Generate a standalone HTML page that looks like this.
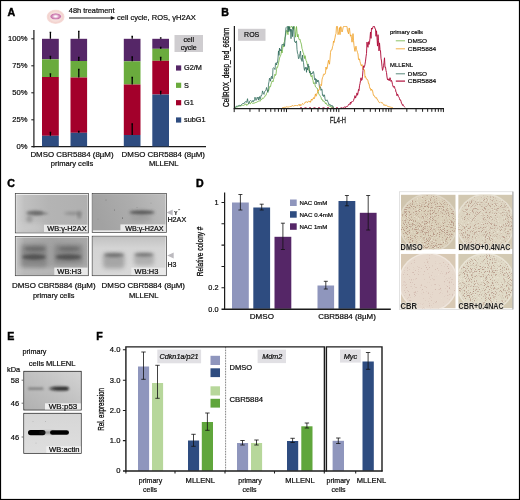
<!DOCTYPE html>
<html>
<head>
<meta charset="utf-8">
<title>Figure</title>
<style>
html,body{margin:0;padding:0;background:#fff;}
body{width:520px;height:500px;overflow:hidden;font-family:"Liberation Sans",sans-serif;}
svg{display:block;will-change:transform;}
text{font-family:"Liberation Sans",sans-serif;fill:#0a0a0a;stroke:#0a0a0a;stroke-width:0.2px;}
.t7{font-size:7.6px;}
.t6{font-size:7.0px;}
.t5{font-size:5.9px;}
.lbl{font-size:10.6px;font-weight:bold;fill:#000;stroke:#000;stroke-width:0.45px;}
.ax{stroke:#1c1c1c;stroke-width:1.05;fill:none;}
.eb{stroke:#111;stroke-width:0.8;fill:none;}
</style>
</head>
<body>
<svg width="520" height="500" viewBox="0 0 520 500">
<defs>
<filter id="b1" x="-30%" y="-100%" width="160%" height="300%"><feGaussianBlur stdDeviation="1.1"/></filter>
<filter id="b2" x="-30%" y="-100%" width="160%" height="300%"><feGaussianBlur stdDeviation="2"/></filter>
<filter id="b05" x="-30%" y="-100%" width="160%" height="300%"><feGaussianBlur stdDeviation="0.6"/></filter>
</defs>
<rect x="0" y="0" width="520" height="500" fill="#fff"/>

<!-- ================= PANEL A ================= -->
<g id="panelA">
<text class="lbl" x="7.5" y="16.3">A</text>
<!-- dish icon -->
<defs>
<radialGradient id="gDish" cx="0.5" cy="0.5" r="0.5"><stop offset="0" stop-color="#f7e3df"/><stop offset="0.62" stop-color="#f6dfdb"/><stop offset="0.8" stop-color="#f3d3cf"/><stop offset="0.93" stop-color="#f6dcd8"/><stop offset="1" stop-color="#fbeeed"/></radialGradient>
<radialGradient id="gNuc" cx="0.5" cy="0.5" r="0.5"><stop offset="0" stop-color="#ffffff"/><stop offset="0.22" stop-color="#fbeef5"/><stop offset="0.6" stop-color="#d592bd"/><stop offset="0.85" stop-color="#c873aa"/><stop offset="1" stop-color="#e3b1cf"/></radialGradient>
</defs>
<ellipse cx="55.6" cy="16.8" rx="9.1" ry="7.2" fill="url(#gDish)"/>
<ellipse cx="55.7" cy="16.4" rx="5.6" ry="3.2" fill="url(#gNuc)"/>
<text class="t7" x="68.8" y="13.4" textLength="45.7" lengthAdjust="spacingAndGlyphs">48h treatment</text>
<line x1="69" y1="18" x2="112" y2="18" stroke="#1a1a1a" stroke-width="1.05"/>
<path d="M115.3 18 L110.8 16.1 L110.8 19.9 Z" fill="#1a1a1a"/>
<text class="t7" x="117" y="20.4" textLength="78.7" lengthAdjust="spacingAndGlyphs">cell cycle, ROS, γH2AX</text>

<!-- axes -->
<line class="ax" style="stroke-width:1.2px" x1="33.9" y1="30" x2="33.9" y2="147.4"/>
<line class="ax" style="stroke-width:1.3px" x1="31.3" y1="146.7" x2="206" y2="146.7"/>
<line class="ax" x1="31.3" y1="38.8" x2="33.9" y2="38.8"/>
<line class="ax" x1="31.3" y1="65.8" x2="33.9" y2="65.8"/>
<line class="ax" x1="31.3" y1="92.8" x2="33.9" y2="92.8"/>
<line class="ax" x1="31.3" y1="119.8" x2="33.9" y2="119.8"/>
<text class="t7" x="27.5" y="41.3" text-anchor="end">100%</text>
<text class="t7" x="27.5" y="68.3" text-anchor="end">75%</text>
<text class="t7" x="27.5" y="95.3" text-anchor="end">50%</text>
<text class="t7" x="27.5" y="122.3" text-anchor="end">25%</text>
<text class="t7" x="27.5" y="149.3" text-anchor="end">0%</text>

<!-- bar 1 -->
<rect x="42" y="38.8" width="16.8" height="20.5" fill="#552667"/>
<rect x="42" y="59.3" width="16.8" height="17.7" fill="#6aab3d"/>
<rect x="42" y="77" width="16.8" height="58.8" fill="#a3002b"/>
<rect x="42" y="135.8" width="16.8" height="10.6" fill="#2e4c80"/>
<!-- bar 2 -->
<rect x="70.5" y="38.8" width="16.6" height="22.2" fill="#552667"/>
<rect x="70.5" y="61" width="16.6" height="16.5" fill="#6aab3d"/>
<rect x="70.5" y="77.5" width="16.6" height="55.3" fill="#a3002b"/>
<rect x="70.5" y="132.8" width="16.6" height="13.6" fill="#2e4c80"/>
<!-- bar 3 -->
<rect x="123.8" y="38.8" width="16.7" height="22.5" fill="#552667"/>
<rect x="123.8" y="61.3" width="16.7" height="23.2" fill="#6aab3d"/>
<rect x="123.8" y="84.5" width="16.7" height="50.5" fill="#a3002b"/>
<rect x="123.8" y="135" width="16.7" height="11.4" fill="#2e4c80"/>
<!-- bar 4 -->
<rect x="152.3" y="38.8" width="16.7" height="10" fill="#552667"/>
<rect x="152.3" y="48.8" width="16.7" height="12" fill="#6aab3d"/>
<rect x="152.3" y="60.8" width="16.7" height="33.7" fill="#a3002b"/>
<rect x="152.3" y="94.5" width="16.7" height="51.9" fill="#2e4c80"/>

<!-- error bars -->
<g class="eb" style="stroke:#000;stroke-width:1.3px">
<path d="M50.4 32.3V38.8M49.6 32.3h1.6"/>
<path d="M50.4 56.5V59.3M49.6 56.5h1.6"/>
<path d="M50.4 74V77M49.6 74h1.6"/>
<path d="M50.4 132.5V135.8M49.6 132.5h1.6"/>
<path d="M78.8 31.3V38.8M78 31.3h1.6"/>
<path d="M78.8 57.5V61M78 57.5h1.6"/>
<path d="M78.8 69.5V77.5M78 69.5h1.6"/>
<path d="M78.8 131.5V132.8M78 131.5h1.6"/>
<path d="M132.2 36.5V38.8M131.4 36.5h1.6"/>
<path d="M132.2 57V61.3M131.4 57h1.6"/>
<path d="M132.2 77.5V84.5M131.4 77.5h1.6"/>
<path d="M132.2 124V135M131.4 124h1.6"/>
<path d="M160.7 38V38.8M159.9 38h1.6"/>
<path d="M160.7 47.5V48.8M159.9 47.5h1.6"/>
<path d="M160.7 57.5V60.8M159.9 57.5h1.6"/>
<path d="M160.7 91.5V94.5M159.9 91.5h1.6"/>
</g>

<!-- legend -->
<rect x="174.5" y="35" width="28.5" height="17" fill="#cfcdd0"/>
<text class="t6" x="188.7" y="42" text-anchor="middle">cell</text>
<text class="t6" x="188.7" y="50" text-anchor="middle">cycle</text>
<rect x="176" y="65.4" width="5.2" height="5.2" fill="#552667"/>
<rect x="176" y="82.7" width="5.2" height="5.2" fill="#6aab3d"/>
<rect x="176" y="100.1" width="5.2" height="5.2" fill="#a3002b"/>
<rect x="176" y="117.4" width="5.2" height="5.2" fill="#2e4c80"/>
<text font-size="7.3" x="184" y="70.3">G2/M</text>
<text font-size="7.3" x="184" y="87.6">S</text>
<text font-size="7.3" x="184" y="105">G1</text>
<text font-size="7.3" x="184" y="122.3">subG1</text>

<!-- x labels -->
<text class="t7" x="30.4" y="157" textLength="83.2" lengthAdjust="spacingAndGlyphs">DMSO CBR5884 (8µM)</text>
<text class="t7" x="72" y="166" text-anchor="middle">primary cells</text>
<text class="t7" x="121.6" y="157" textLength="83.4" lengthAdjust="spacingAndGlyphs">DMSO CBR5884 (8µM)</text>
<text class="t7" x="163.7" y="166" text-anchor="middle">MLLENL</text>
</g>

<g id="panelB">
<text class="lbl" x="221.3" y="16.2">B</text>
<rect x="238" y="28.8" width="27.5" height="12" fill="#cfcdd0"/>
<text class="t6" x="251.7" y="37.2" text-anchor="middle">ROS</text>
<text transform="translate(228.7 107) rotate(-90)" style="stroke-width:0.28px" font-size="8.9" textLength="79.3" lengthAdjust="spacingAndGlyphs">CellROX_deep_red_665nm</text>
<line x1="300" y1="107.6" x2="346" y2="107.6" stroke="#b0103c" stroke-width="0.7" stroke-dasharray="2 2.5"/>
<path d="M234.5,107.5 L235.0,107.3 L235.5,107.2 L236.0,107.2 L236.5,106.9 L237.0,106.6 L237.5,106.8 L238.0,106.4 L238.5,106.2 L239.0,106.1 L239.5,106.1 L240.0,105.8 L240.5,106.0 L241.0,105.9 L241.5,105.8 L242.0,105.3 L242.5,105.2 L243.0,105.3 L243.5,105.4 L244.0,105.2 L244.5,104.8 L245.0,104.8 L245.5,104.0 L246.0,103.7 L246.5,105.2 L247.0,105.5 L247.5,104.4 L248.0,104.1 L248.5,103.8 L249.0,103.6 L249.5,102.6 L250.0,103.6 L250.5,103.8 L251.0,102.4 L251.5,102.5 L252.0,102.6 L252.5,103.1 L253.0,103.8 L253.5,103.1 L254.0,102.6 L254.5,103.2 L255.0,103.1 L255.5,102.5 L256.0,102.7 L256.5,102.3 L257.0,101.9 L257.5,101.7 L258.0,101.9 L258.5,101.2 L259.0,100.7 L259.5,100.8 L260.0,101.3 L260.5,100.3 L261.0,100.1 L261.5,99.1 L262.0,99.4 L262.5,98.2 L263.0,97.8 L263.5,98.4 L264.0,97.6 L264.5,96.6 L265.0,95.6 L265.5,95.8 L266.0,95.4 L266.5,93.5 L267.0,92.7 L267.5,91.5 L268.0,89.8 L268.5,90.9 L269.0,89.2 L269.5,86.6 L270.0,86.7 L270.5,86.8 L271.0,84.2 L271.5,82.8 L272.0,81.1 L272.5,81.0 L273.0,81.8 L273.5,79.5 L274.0,78.0 L274.5,75.4 L275.0,74.2 L275.5,75.5 L276.0,74.4 L276.5,69.6 L277.0,66.9 L277.5,67.4 L278.0,65.7 L278.5,62.9 L279.0,60.8 L279.5,58.1 L280.0,56.8 L280.5,55.8 L281.0,54.3 L281.5,49.9 L282.0,53.0 L282.5,49.8 L283.0,45.8 L283.5,46.8 L284.0,42.7 L284.5,41.4 L285.0,37.3 L285.5,36.2 L286.0,33.8 L286.5,30.4 L287.0,30.6 L287.5,33.1 L288.0,34.7 L288.5,26.6 L289.0,26.7 L289.5,29.4 L290.0,27.6 L290.5,27.2 L291.0,26.5 L291.5,26.5 L292.0,26.8 L292.5,28.7 L293.0,26.8 L293.5,29.3 L294.0,27.2 L294.5,26.5 L295.0,31.1 L295.5,37.2 L296.0,31.7 L296.5,26.5 L297.0,32.0 L297.5,37.0 L298.0,34.3 L298.5,37.2 L299.0,39.2 L299.5,39.9 L300.0,39.3 L300.5,41.9 L301.0,42.9 L301.5,44.9 L302.0,48.5 L302.5,49.8 L303.0,52.3 L303.5,52.8 L304.0,55.9 L304.5,58.5 L305.0,55.6 L305.5,58.0 L306.0,60.5 L306.5,61.0 L307.0,63.6 L307.5,65.4 L308.0,65.7 L308.5,66.9 L309.0,70.6 L309.5,70.1 L310.0,72.3 L310.5,75.1 L311.0,76.4 L311.5,76.9 L312.0,75.3 L312.5,79.1 L313.0,80.2 L313.5,83.5 L314.0,83.4 L314.5,82.7 L315.0,84.8 L315.5,86.9 L316.0,87.3 L316.5,87.6 L317.0,88.6 L317.5,88.6 L318.0,90.8 L318.5,93.3 L319.0,94.2 L319.5,95.0 L320.0,95.7 L320.5,96.6 L321.0,97.3 L321.5,99.3 L322.0,99.1 L322.5,100.0 L323.0,101.4 L323.5,101.1 L324.0,100.9 L324.5,101.7 L325.0,102.7 L325.5,103.8 L326.0,102.8 L326.5,103.4 L327.0,104.9 L327.5,105.4 L328.0,105.2 L328.5,106.0 L329.0,105.9 L329.5,106.1 L330.0,105.9 L330.5,106.0 L331.0,107.3 L331.5,107.1 L332.0,107.0 L332.5,107.0 L333.0,107.2 L333.5,107.3 L334.0,107.5" fill="none" stroke="#6db33f" stroke-width="0.8" stroke-linejoin="round"/>
<path d="M234.5,107.5 L235.0,107.4 L235.5,107.2 L236.0,107.4 L236.5,106.5 L237.0,105.8 L237.5,106.3 L238.0,105.9 L238.5,105.7 L239.0,106.1 L239.5,105.3 L240.0,105.4 L240.5,105.5 L241.0,105.5 L241.5,104.5 L242.0,104.2 L242.5,103.6 L243.0,104.0 L243.5,103.5 L244.0,103.8 L244.5,102.4 L245.0,102.0 L245.5,101.8 L246.0,101.4 L246.5,102.4 L247.0,101.0 L247.5,98.7 L248.0,101.9 L248.5,103.6 L249.0,103.5 L249.5,101.3 L250.0,101.1 L250.5,100.6 L251.0,100.7 L251.5,101.4 L252.0,101.5 L252.5,101.6 L253.0,100.3 L253.5,101.5 L254.0,101.2 L254.5,99.7 L255.0,97.2 L255.5,98.9 L256.0,100.4 L256.5,99.8 L257.0,97.6 L257.5,98.3 L258.0,97.0 L258.5,100.1 L259.0,98.1 L259.5,96.6 L260.0,99.5 L260.5,98.4 L261.0,95.4 L261.5,95.6 L262.0,94.3 L262.5,90.9 L263.0,92.4 L263.5,93.9 L264.0,94.4 L264.5,91.6 L265.0,91.1 L265.5,90.9 L266.0,89.9 L266.5,87.5 L267.0,89.4 L267.5,91.0 L268.0,92.3 L268.5,84.1 L269.0,81.8 L269.5,78.2 L270.0,79.0 L270.5,81.2 L271.0,77.5 L271.5,76.3 L272.0,78.9 L272.5,78.0 L273.0,68.4 L273.5,67.7 L274.0,68.0 L274.5,68.7 L275.0,69.6 L275.5,63.4 L276.0,62.8 L276.5,65.0 L277.0,62.2 L277.5,62.5 L278.0,58.0 L278.5,50.9 L279.0,55.4 L279.5,48.0 L280.0,50.9 L280.5,49.6 L281.0,50.8 L281.5,48.3 L282.0,44.4 L282.5,44.5 L283.0,45.3 L283.5,44.4 L284.0,43.7 L284.5,46.4 L285.0,40.3 L285.5,32.9 L286.0,27.8 L286.5,27.1 L287.0,26.5 L287.5,26.5 L288.0,32.0 L288.5,26.5 L289.0,30.4 L289.5,26.5 L290.0,31.5 L290.5,29.1 L291.0,38.7 L291.5,29.6 L292.0,29.4 L292.5,36.6 L293.0,26.5 L293.5,26.6 L294.0,34.2 L294.5,41.5 L295.0,41.7 L295.5,42.8 L296.0,41.1 L296.5,41.1 L297.0,49.4 L297.5,53.2 L298.0,54.4 L298.5,58.8 L299.0,58.3 L299.5,56.2 L300.0,53.5 L300.5,51.0 L301.0,59.2 L301.5,58.7 L302.0,61.4 L302.5,55.1 L303.0,60.0 L303.5,62.5 L304.0,67.7 L304.5,70.4 L305.0,67.6 L305.5,68.5 L306.0,67.1 L306.5,72.3 L307.0,67.9 L307.5,69.9 L308.0,63.9 L308.5,67.2 L309.0,66.3 L309.5,72.9 L310.0,71.2 L310.5,73.5 L311.0,74.5 L311.5,73.0 L312.0,73.9 L312.5,73.1 L313.0,71.5 L313.5,71.7 L314.0,74.5 L314.5,79.4 L315.0,80.0 L315.5,78.5 L316.0,83.8 L316.5,79.4 L317.0,79.8 L317.5,81.9 L318.0,80.1 L318.5,80.7 L319.0,83.2 L319.5,87.5 L320.0,86.9 L320.5,86.9 L321.0,90.4 L321.5,88.9 L322.0,89.6 L322.5,95.4 L323.0,94.7 L323.5,96.5 L324.0,94.9 L324.5,95.0 L325.0,98.8 L325.5,100.5 L326.0,100.2 L326.5,100.8 L327.0,99.8 L327.5,100.6 L328.0,102.5 L328.5,102.8 L329.0,105.1 L329.5,104.8 L330.0,104.3 L330.5,105.2 L331.0,106.1 L331.5,105.8 L332.0,105.2 L332.5,106.1 L333.0,107.3 L333.5,107.1 L334.0,107.5" fill="none" stroke="#2f6b5a" stroke-width="0.8" stroke-linejoin="round"/>
<path d="M282.0,107.7 L282.5,107.7 L283.0,107.6 L283.5,107.5 L284.0,107.4 L284.5,107.3 L285.0,107.4 L285.5,107.3 L286.0,107.2 L286.5,106.8 L287.0,106.8 L287.5,107.0 L288.0,106.9 L288.5,107.0 L289.0,107.1 L289.5,106.9 L290.0,106.4 L290.5,106.5 L291.0,106.1 L291.5,106.2 L292.0,106.3 L292.5,105.6 L293.0,105.6 L293.5,106.2 L294.0,106.1 L294.5,105.7 L295.0,105.0 L295.5,105.5 L296.0,105.9 L296.5,105.3 L297.0,105.8 L297.5,105.8 L298.0,105.0 L298.5,104.8 L299.0,104.9 L299.5,104.5 L300.0,106.0 L300.5,104.7 L301.0,104.7 L301.5,105.3 L302.0,104.3 L302.5,103.5 L303.0,103.9 L303.5,104.4 L304.0,103.7 L304.5,103.3 L305.0,102.3 L305.5,102.1 L306.0,102.4 L306.5,101.7 L307.0,102.1 L307.5,102.7 L308.0,101.7 L308.5,101.1 L309.0,101.4 L309.5,101.8 L310.0,101.0 L310.5,102.3 L311.0,100.4 L311.5,99.1 L312.0,100.4 L312.5,99.3 L313.0,99.2 L313.5,97.6 L314.0,98.9 L314.5,98.4 L315.0,95.8 L315.5,93.9 L316.0,96.3 L316.5,95.4 L317.0,93.1 L317.5,92.9 L318.0,89.9 L318.5,90.9 L319.0,89.4 L319.5,89.3 L320.0,85.6 L320.5,84.8 L321.0,84.7 L321.5,85.6 L322.0,79.9 L322.5,77.6 L323.0,76.6 L323.5,74.4 L324.0,73.8 L324.5,74.6 L325.0,74.2 L325.5,72.8 L326.0,67.0 L326.5,69.3 L327.0,68.7 L327.5,65.9 L328.0,63.1 L328.5,60.3 L329.0,62.7 L329.5,64.2 L330.0,59.1 L330.5,52.5 L331.0,50.1 L331.5,49.9 L332.0,49.8 L332.5,46.7 L333.0,45.4 L333.5,41.1 L334.0,42.5 L334.5,40.0 L335.0,37.9 L335.5,34.8 L336.0,33.6 L336.5,26.5 L337.0,26.5 L337.5,26.5 L338.0,34.7 L338.5,33.4 L339.0,31.4 L339.5,27.6 L340.0,34.7 L340.5,26.9 L341.0,26.5 L341.5,29.7 L342.0,32.0 L342.5,30.9 L343.0,27.9 L343.5,26.5 L344.0,26.5 L344.5,26.5 L345.0,26.5 L345.5,26.5 L346.0,26.5 L346.5,26.5 L347.0,26.5 L347.5,31.2 L348.0,32.4 L348.5,33.8 L349.0,28.0 L349.5,28.3 L350.0,33.3 L350.5,36.2 L351.0,34.9 L351.5,38.7 L352.0,42.2 L352.5,39.7 L353.0,33.6 L353.5,40.3 L354.0,45.7 L354.5,49.0 L355.0,51.4 L355.5,47.8 L356.0,46.2 L356.5,49.4 L357.0,50.9 L357.5,52.5 L358.0,54.0 L358.5,59.4 L359.0,59.9 L359.5,58.8 L360.0,61.7 L360.5,63.3 L361.0,65.2 L361.5,66.0 L362.0,64.5 L362.5,67.6 L363.0,69.7 L363.5,69.1 L364.0,70.1 L364.5,69.9 L365.0,77.4 L365.5,76.4 L366.0,77.9 L366.5,79.2 L367.0,79.0 L367.5,79.5 L368.0,80.9 L368.5,83.6 L369.0,83.5 L369.5,86.6 L370.0,88.7 L370.5,88.5 L371.0,90.6 L371.5,89.1 L372.0,90.1 L372.5,90.4 L373.0,93.2 L373.5,95.5 L374.0,95.9 L374.5,95.8 L375.0,97.4 L375.5,97.6 L376.0,98.2 L376.5,97.6 L377.0,99.4 L377.5,99.4 L378.0,100.6 L378.5,101.7 L379.0,102.1 L379.5,102.7 L380.0,102.4 L380.5,101.9 L381.0,102.6 L381.5,102.9 L382.0,102.4 L382.5,103.2 L383.0,103.8 L383.5,104.3 L384.0,105.4 L384.5,104.7 L385.0,105.7 L385.5,105.3 L386.0,105.3 L386.5,105.2 L387.0,105.7 L387.5,106.4 L388.0,106.3 L388.5,106.6 L389.0,106.8 L389.5,106.8 L390.0,107.0 L390.5,107.1 L391.0,107.3 L391.5,107.4 L392.0,107.5 L392.5,107.6 L393.0,107.7" fill="none" stroke="#ef9d1e" stroke-width="0.8" stroke-linejoin="round"/>
<path d="M343.0,107.6 L343.5,107.6 L344.0,107.2 L344.5,107.0 L345.0,107.2 L345.5,107.1 L346.0,106.9 L346.5,106.6 L347.0,107.0 L347.5,106.4 L348.0,105.7 L348.5,104.5 L349.0,104.3 L349.5,103.9 L350.0,104.7 L350.5,102.0 L351.0,103.4 L351.5,101.9 L352.0,101.4 L352.5,101.9 L353.0,101.4 L353.5,100.6 L354.0,98.8 L354.5,98.1 L355.0,95.6 L355.5,98.1 L356.0,96.6 L356.5,95.8 L357.0,92.9 L357.5,95.2 L358.0,93.1 L358.5,89.4 L359.0,90.6 L359.5,85.8 L360.0,83.6 L360.5,80.6 L361.0,77.8 L361.5,80.4 L362.0,80.1 L362.5,76.2 L363.0,70.3 L363.5,65.8 L364.0,67.5 L364.5,66.5 L365.0,64.3 L365.5,61.1 L366.0,56.9 L366.5,53.4 L367.0,42.1 L367.5,46.0 L368.0,47.3 L368.5,41.7 L369.0,44.5 L369.5,42.8 L370.0,38.2 L370.5,32.0 L371.0,38.4 L371.5,28.0 L372.0,29.1 L372.5,28.9 L373.0,26.5 L373.5,26.5 L374.0,26.5 L374.5,26.5 L375.0,28.8 L375.5,28.9 L376.0,36.3 L376.5,30.8 L377.0,37.9 L377.5,46.1 L378.0,34.7 L378.5,40.3 L379.0,50.9 L379.5,42.9 L380.0,49.4 L380.5,50.9 L381.0,58.2 L381.5,61.0 L382.0,66.4 L382.5,70.4 L383.0,68.8 L383.5,65.7 L384.0,62.8 L384.5,57.8 L385.0,67.5 L385.5,67.1 L386.0,70.6 L386.5,72.6 L387.0,77.0 L387.5,79.7 L388.0,78.9 L388.5,80.3 L389.0,78.9 L389.5,80.5 L390.0,77.7 L390.5,79.4 L391.0,81.5 L391.5,80.4 L392.0,81.9 L392.5,84.6 L393.0,86.2 L393.5,87.3 L394.0,86.1 L394.5,86.7 L395.0,88.8 L395.5,89.4 L396.0,92.3 L396.5,92.6 L397.0,95.8 L397.5,94.0 L398.0,95.1 L398.5,96.7 L399.0,97.2 L399.5,98.7 L400.0,100.2 L400.5,99.9 L401.0,101.2 L401.5,103.4 L402.0,103.6 L402.5,105.4 L403.0,104.6 L403.5,105.5 L404.0,106.4 L404.5,106.8 L405.0,107.3" fill="none" stroke="#b0103c" stroke-width="0.95" stroke-linejoin="round"/>
<line class="ax" style="stroke-width:1.25px" x1="234.4" y1="26" x2="234.4" y2="109"/>
<line class="ax" style="stroke-width:1.25px" x1="233.7" y1="108.5" x2="444" y2="108.5"/>
<path d="M234.20 108.5v3.6 M249.94 108.5v3.3 M259.15 108.5v3.3 M265.69 108.5v3.3 M270.76 108.5v3.3 M274.90 108.5v3.3 M278.40 108.5v3.3 M281.43 108.5v3.3 M284.11 108.5v3.3 M286.50 108.5v3.6 M302.24 108.5v3.3 M311.45 108.5v3.3 M317.99 108.5v3.3 M323.06 108.5v3.3 M327.20 108.5v3.3 M330.70 108.5v3.3 M333.73 108.5v3.3 M336.41 108.5v3.3 M338.80 108.5v3.6 M354.54 108.5v3.3 M363.75 108.5v3.3 M370.29 108.5v3.3 M375.36 108.5v3.3 M379.50 108.5v3.3 M383.00 108.5v3.3 M386.03 108.5v3.3 M388.71 108.5v3.3 M391.10 108.5v3.6 M406.84 108.5v3.3 M416.05 108.5v3.3 M422.59 108.5v3.3 M427.66 108.5v3.3 M431.80 108.5v3.3 M435.30 108.5v3.3 M438.33 108.5v3.3 M441.01 108.5v3.3 M443.40 108.5v3.6" stroke="#1a1a1a" stroke-width="1" fill="none"/>
<text x="330" y="122.6" font-size="9" style="stroke-width:0.28px" textLength="16" lengthAdjust="spacingAndGlyphs">FL4-H</text>
<text class="t5" x="390" y="34">primary cells</text>
<line x1="395.8" y1="40.8" x2="405" y2="40.8" stroke="#6db33f" stroke-width="0.8"/>
<text font-size="6.1" x="407.8" y="42.8" textLength="19.2" lengthAdjust="spacingAndGlyphs">DMSO</text>
<line x1="395.8" y1="48.8" x2="405" y2="48.8" stroke="#ef9d1e" stroke-width="0.8"/>
<text font-size="6.1" x="407.8" y="50.8" textLength="28.4" lengthAdjust="spacingAndGlyphs">CBR5884</text>
<text class="t5" x="390" y="66.6">MLLENL</text>
<line x1="395.8" y1="73.8" x2="405" y2="73.8" stroke="#2f6b5a" stroke-width="0.8"/>
<text font-size="6.1" x="407.8" y="75.8" textLength="19.2" lengthAdjust="spacingAndGlyphs">DMSO</text>
<line x1="395.8" y1="81.1" x2="405" y2="81.1" stroke="#b0103c" stroke-width="1.2"/>
<text font-size="6.1" x="407.8" y="83.3" textLength="28.4" lengthAdjust="spacingAndGlyphs">CBR5884</text>
</g>
<g id="panelC">
<defs>
<linearGradient id="gC1" x1="0" y1="0" x2="1" y2="0"><stop offset="0" stop-color="#d2d2d2"/><stop offset="0.12" stop-color="#c0c0c0"/><stop offset="0.45" stop-color="#b4b4b4"/><stop offset="1" stop-color="#b0b0b0"/></linearGradient>
<linearGradient id="gC2" x1="0" y1="0.2" x2="1" y2="0"><stop offset="0" stop-color="#a2a2a2"/><stop offset="0.5" stop-color="#adadad"/><stop offset="1" stop-color="#bdbdbd"/></linearGradient>
<linearGradient id="gC3" x1="0" y1="0" x2="1" y2="0"><stop offset="0" stop-color="#c4c4c4"/><stop offset="0.12" stop-color="#acacac"/><stop offset="0.5" stop-color="#a2a2a2"/><stop offset="1" stop-color="#a8a8a8"/></linearGradient>
<linearGradient id="gC4" x1="0" y1="0" x2="0" y2="1"><stop offset="0" stop-color="#c2c2c2"/><stop offset="0.3" stop-color="#d4d4d4"/><stop offset="1" stop-color="#d8d8d8"/></linearGradient>
<clipPath id="cC1"><rect x="16.2" y="194.4" width="71.5" height="37.6"/></clipPath>
<clipPath id="cC2"><rect x="92.9" y="194.1" width="72.9" height="37.6"/></clipPath>
<clipPath id="cC3"><rect x="16.2" y="237.2" width="71.5" height="37.7"/></clipPath>
<clipPath id="cC4"><rect x="92.9" y="236.8" width="72.9" height="38.2"/></clipPath>
<filter id="b15" x="-30%" y="-100%" width="160%" height="300%"><feGaussianBlur stdDeviation="1.5"/></filter>
<filter id="b3" x="-50%" y="-100%" width="200%" height="300%"><feGaussianBlur stdDeviation="3"/></filter>
</defs>
<text class="lbl" x="7.3" y="186.9">C</text>
<!-- blot 1 -->
<rect x="15.3" y="193.5" width="73.3" height="39.4" fill="#fff" stroke="#3a3a3a" stroke-width="0.7"/>
<g clip-path="url(#cC1)">
<rect x="15.8" y="194.4" width="72.2" height="37.6" fill="url(#gC1)"/>
<ellipse cx="30" cy="228" rx="16" ry="5" fill="#d0d0d0" opacity="0.6" filter="url(#b3)"/>
<ellipse cx="35" cy="213" rx="9" ry="2.2" fill="#505050" opacity="0.75" filter="url(#b15)"/>
<ellipse cx="41" cy="213.4" rx="7.5" ry="1.4" fill="#666" opacity="0.5" filter="url(#b1)"/>
<ellipse cx="29.5" cy="219" rx="3.2" ry="3.5" fill="#777" opacity="0.45" filter="url(#b15)"/>
<ellipse cx="73" cy="213.3" rx="9" ry="1.6" fill="#6c6c6c" opacity="0.5" filter="url(#b15)"/>
<ellipse cx="79.3" cy="215" rx="2" ry="4" fill="#666" opacity="0.5" filter="url(#b15)"/>
<rect x="44" y="224.7" width="45" height="8" fill="#e9e9e9"/>
</g>
<text class="t6" x="47.2" y="231.2" textLength="39.4" lengthAdjust="spacingAndGlyphs">WB:γ-H2AX</text>
<!-- blot 2 -->
<rect x="92.2" y="193.5" width="74.2" height="38.9" fill="#fff" stroke="#3a3a3a" stroke-width="0.7"/>
<g clip-path="url(#cC2)">
<rect x="92.9" y="194.1" width="72.9" height="37.6" fill="url(#gC2)"/>
<ellipse cx="142" cy="212.4" rx="12.5" ry="2" fill="#3c3c3c" opacity="0.85" filter="url(#b15)"/>
<ellipse cx="141" cy="218" rx="11" ry="3.5" fill="#8a8a8a" opacity="0.4" filter="url(#b2)"/>
<rect x="92.9" y="230.4" width="28" height="2" fill="#f4f4f4"/>
<rect x="120.4" y="224.4" width="46" height="8" fill="#e9e9e9"/>
<circle cx="106" cy="200" r="0.4" fill="#555"/><circle cx="114.5" cy="210" r="0.45" fill="#444"/><circle cx="122.5" cy="218" r="0.5" fill="#444"/><circle cx="98" cy="219" r="0.35" fill="#666"/><circle cx="151" cy="203" r="0.35" fill="#666"/><circle cx="137" cy="207.5" r="0.35" fill="#555"/>
</g>
<text class="t6" x="125.2" y="231.2" textLength="38.3" lengthAdjust="spacingAndGlyphs">WB:γ-H2AX</text>
<!-- blot 3 -->
<rect x="15.3" y="236.4" width="73.3" height="39.3" fill="#fff" stroke="#3a3a3a" stroke-width="0.7"/>
<g clip-path="url(#cC3)">
<rect x="15.8" y="237.2" width="72.2" height="37.7" fill="url(#gC3)"/>
<rect x="15.8" y="268" width="72.2" height="7" fill="#c4c4c4" opacity="0.7" filter="url(#b2)"/>
<rect x="21" y="244" width="26" height="23" rx="4" fill="#7a7a7a" opacity="0.7" filter="url(#b2)"/>
<rect x="54" y="244" width="29" height="20" rx="4" fill="#7a7a7a" opacity="0.65" filter="url(#b2)"/>
<ellipse cx="34" cy="257" rx="12" ry="2.8" fill="#444" opacity="0.8" filter="url(#b15)"/>
<ellipse cx="68.5" cy="257" rx="13" ry="2.8" fill="#444" opacity="0.8" filter="url(#b15)"/>
<ellipse cx="35" cy="248.8" rx="10.5" ry="2.4" fill="#5a5a5a" opacity="0.6" filter="url(#b15)"/>
<ellipse cx="69" cy="248.8" rx="10.5" ry="2.4" fill="#5a5a5a" opacity="0.55" filter="url(#b15)"/>
<rect x="54.3" y="267.6" width="34" height="8" fill="#e9e9e9"/>
</g>
<text class="t6" x="57.2" y="274.3" textLength="24.2" lengthAdjust="spacingAndGlyphs">WB:H3</text>
<!-- blot 4 -->
<rect x="92.2" y="236.2" width="74.2" height="39.5" fill="#fff" stroke="#3a3a3a" stroke-width="0.7"/>
<g clip-path="url(#cC4)">
<rect x="92.9" y="236.8" width="72.9" height="38.2" fill="url(#gC4)"/>
<rect x="103" y="253" width="21.5" height="15.5" rx="4" fill="#868686" opacity="0.6" filter="url(#b2)"/>
<rect x="134" y="253" width="20" height="12.5" rx="4" fill="#909090" opacity="0.55" filter="url(#b2)"/>
<ellipse cx="114" cy="255" rx="10" ry="1.8" fill="#505050" opacity="0.7" filter="url(#b15)"/>
<ellipse cx="144" cy="254.8" rx="9.5" ry="1.7" fill="#505050" opacity="0.65" filter="url(#b15)"/>
<rect x="131.3" y="267.6" width="35" height="8" fill="#e9e9e9"/>
</g>
<text class="t6" x="134.6" y="274.3" textLength="23.7" lengthAdjust="spacingAndGlyphs">WB:H3</text>
<!-- arrows / labels -->
<path d="M166.6 212.5 L172.7 209.5 L172.7 215.5 Z" fill="#bcbabf"/>
<text x="174.3" y="214" font-size="7" font-family="Liberation Serif" style="font-family:'Liberation Serif',serif">γ</text>
<path d="M178.2 209.6h1.9" stroke="#111" stroke-width="0.6"/>
<text class="t6" x="167.4" y="222.1" textLength="18.8" lengthAdjust="spacingAndGlyphs">H2AX</text>
<path d="M167.2 255.5 L173.7 252.4 L173.7 258.6 Z" fill="#bcbabf"/>
<text class="t6" x="167.4" y="266.6">H3</text>
<text class="t7" x="12" y="288" textLength="83.6" lengthAdjust="spacingAndGlyphs">DMSO CBR5884 (8µM)</text>
<text class="t7" x="53.7" y="298" text-anchor="middle" textLength="41.4" lengthAdjust="spacingAndGlyphs">primary cells</text>
<text class="t7" x="101.6" y="288" textLength="83.4" lengthAdjust="spacingAndGlyphs">DMSO CBR5884 (8µM)</text>
<text class="t7" x="143.7" y="298" text-anchor="middle" textLength="29.4" lengthAdjust="spacingAndGlyphs">MLLENL</text>
</g>
<g id="panelD">
<text class="lbl" x="196" y="186.9">D</text>
<text transform="translate(202.5 276.2) rotate(-90)" style="stroke-width:0.28px" font-size="8.6" textLength="49.7" lengthAdjust="spacingAndGlyphs">Relative colony #</text>
<!-- bars -->
<rect x="232" y="202.5" width="16.8" height="106.3" fill="#8f96bd"/>
<rect x="253.3" y="207.5" width="16.8" height="101.3" fill="#2e4c80"/>
<rect x="274.5" y="236.8" width="16.8" height="72" fill="#552667"/>
<rect x="317.5" y="285.5" width="16.6" height="23.3" fill="#8f96bd"/>
<rect x="338.5" y="201" width="16.8" height="107.8" fill="#2e4c80"/>
<rect x="359.8" y="212.8" width="16.8" height="96" fill="#552667"/>
<g class="eb">
<path d="M240.4 194.5V210M238.4 194.5h4M238.4 210h4"/>
<path d="M261.7 204.2V210M259.7 204.2h4M259.7 210h4"/>
<path d="M282.9 223.2V249.5M280.9 223.2h4M280.9 249.5h4"/>
<path d="M325.8 281.3V289M323.8 281.3h4M323.8 289h4"/>
<path d="M346.9 195.5V205.8M344.9 195.5h4M344.9 205.8h4"/>
<path d="M368.2 195.5V230M366.2 195.5h4M366.2 230h4"/>
</g>
<!-- axes -->
<line class="ax" style="stroke-width:1.25px" x1="224.6" y1="192.5" x2="224.6" y2="310"/>
<line class="ax" style="stroke-width:1.4px" x1="221.5" y1="309.3" x2="390.8" y2="309.3"/>
<path class="ax" d="M221.5 202.5h3.1M221.5 223.8h3.1M221.5 245.1h3.1M221.5 266.4h3.1M221.5 287.7h3.1"/>
<text font-size="7.3" x="218.5" y="205" text-anchor="end">1</text>
<text font-size="7.3" x="218.5" y="290.2" text-anchor="end">0.2</text>
<text font-size="7.3" x="218.5" y="311.5" text-anchor="end">0.0</text>
<text font-size="7.5" x="261.9" y="318.8" text-anchor="middle" textLength="24.2" lengthAdjust="spacingAndGlyphs">DMSO</text>
<text font-size="7.5" x="347.1" y="318.8" text-anchor="middle" textLength="57.6" lengthAdjust="spacingAndGlyphs">CBR5884 (8µM)</text>
<!-- legend -->
<rect x="290" y="199.5" width="6.7" height="6.5" fill="#8f96bd"/>
<rect x="290" y="211.2" width="6.7" height="6.5" fill="#2e4c80"/>
<rect x="290" y="223.3" width="6.7" height="6.5" fill="#552667"/>
<text class="t5" x="299.4" y="204.9" textLength="28" lengthAdjust="spacingAndGlyphs">NAC 0mM</text>
<text class="t5" x="299.4" y="216.6" textLength="33.6" lengthAdjust="spacingAndGlyphs">NAC 0.4mM</text>
<text class="t5" x="299.4" y="228.7" textLength="28" lengthAdjust="spacingAndGlyphs">NAC 1mM</text>
<!-- photos -->
<rect x="399.3" y="191.8" width="113.7" height="117.6" fill="#fff" stroke="#cfcfcf" stroke-width="0.6"/>
<clipPath id="cD1"><rect x="401" y="194.6" width="54.7" height="54.6"/></clipPath>
<clipPath id="cDc1"><circle cx="428.35" cy="223.20000000000002" r="28.15"/></clipPath>
<filter id="fD1" x="0" y="0" width="1" height="1" color-interpolation-filters="sRGB"><feTurbulence type="fractalNoise" baseFrequency="1.05" numOctaves="2" seed="11" result="n"/><feColorMatrix in="n" type="matrix" values="0 0 0 0 0.55  0 0 0 0 0.34  0 0 0 0 0.29  6.0 0 0 0 -3.28"/><feGaussianBlur stdDeviation="0.3"/></filter>
<filter id="fL1" x="0" y="0" width="1" height="1" color-interpolation-filters="sRGB"><feTurbulence type="fractalNoise" baseFrequency="0.7" numOctaves="2" seed="51" result="n"/><feColorMatrix in="n" type="matrix" values="0 0 0 0 0.95  0 0 0 0 0.93  0 0 0 0 0.88  0 6.0 0 0 -3.6"/></filter>
<g clip-path="url(#cD1)">
<rect x="401" y="194.6" width="54.7" height="54.6" fill="#cfc4ad"/>
<circle cx="428.35" cy="223.20000000000002" r="29.75" fill="#e0d8c8"/>
<circle cx="428.35" cy="223.20000000000002" r="28.35" fill="#dad0ba"/>
<g clip-path="url(#cDc1)"><rect x="401" y="194.6" width="54.7" height="54.6" fill="#fff" filter="url(#fL1)" opacity="0.55"/><rect x="401" y="194.6" width="54.7" height="54.6" fill="#fff" filter="url(#fD1)" opacity="0.45"/><g opacity="0.55"><g fill="#8a5a50"><circle cx="420.6" cy="217.4" r="0.21"/><circle cx="437.7" cy="227.6" r="0.23"/><circle cx="410.5" cy="242.4" r="0.31"/><circle cx="442.6" cy="239.9" r="0.37"/><circle cx="437.3" cy="203.0" r="0.32"/><circle cx="403.2" cy="214.4" r="0.31"/><circle cx="429.8" cy="239.1" r="0.38"/><circle cx="403.8" cy="228.4" r="0.26"/><circle cx="421.3" cy="226.5" r="0.23"/><circle cx="446.4" cy="210.4" r="0.25"/><circle cx="425.6" cy="227.2" r="0.30"/><circle cx="414.7" cy="244.9" r="0.20"/><circle cx="417.9" cy="225.9" r="0.35"/><circle cx="406.1" cy="209.5" r="0.27"/><circle cx="435.4" cy="236.6" r="0.21"/><circle cx="445.6" cy="240.9" r="0.36"/><circle cx="418.6" cy="216.3" r="0.40"/><circle cx="430.0" cy="227.3" r="0.22"/><circle cx="427.8" cy="219.6" r="0.31"/><circle cx="418.4" cy="246.0" r="0.26"/><circle cx="414.0" cy="245.6" r="0.30"/><circle cx="443.0" cy="227.0" r="0.21"/><circle cx="438.0" cy="209.0" r="0.36"/><circle cx="421.3" cy="204.6" r="0.37"/><circle cx="410.1" cy="204.7" r="0.23"/><circle cx="442.5" cy="212.2" r="0.37"/><circle cx="431.0" cy="227.5" r="0.42"/><circle cx="422.0" cy="231.2" r="0.21"/><circle cx="441.9" cy="244.4" r="0.31"/><circle cx="429.2" cy="230.7" r="0.21"/><circle cx="422.4" cy="216.3" r="0.27"/><circle cx="443.1" cy="239.0" r="0.27"/><circle cx="441.0" cy="234.5" r="0.22"/><circle cx="445.2" cy="212.1" r="0.35"/><circle cx="425.5" cy="216.8" r="0.23"/><circle cx="423.3" cy="197.8" r="0.38"/><circle cx="434.2" cy="200.4" r="0.25"/><circle cx="418.3" cy="223.3" r="0.26"/><circle cx="429.7" cy="244.1" r="0.34"/><circle cx="424.3" cy="238.8" r="0.38"/><circle cx="420.3" cy="207.8" r="0.31"/><circle cx="439.6" cy="231.0" r="0.27"/><circle cx="435.2" cy="201.9" r="0.37"/><circle cx="429.1" cy="201.7" r="0.27"/><circle cx="428.3" cy="201.6" r="0.28"/><circle cx="424.5" cy="213.4" r="0.36"/><circle cx="409.3" cy="229.7" r="0.32"/><circle cx="431.0" cy="217.0" r="0.36"/><circle cx="446.1" cy="206.8" r="0.22"/><circle cx="449.6" cy="236.8" r="0.34"/><circle cx="439.2" cy="208.6" r="0.23"/><circle cx="407.5" cy="219.5" r="0.31"/><circle cx="434.7" cy="215.7" r="0.24"/><circle cx="425.6" cy="223.9" r="0.41"/><circle cx="422.8" cy="221.9" r="0.23"/><circle cx="424.5" cy="206.2" r="0.32"/><circle cx="438.0" cy="212.5" r="0.37"/><circle cx="427.0" cy="205.5" r="0.41"/><circle cx="423.4" cy="229.0" r="0.31"/><circle cx="429.7" cy="230.3" r="0.28"/><circle cx="451.1" cy="227.4" r="0.21"/><circle cx="443.9" cy="214.0" r="0.28"/><circle cx="407.2" cy="237.3" r="0.36"/><circle cx="413.8" cy="215.8" r="0.22"/><circle cx="447.3" cy="212.1" r="0.30"/><circle cx="434.7" cy="216.5" r="0.41"/><circle cx="413.8" cy="238.0" r="0.24"/><circle cx="421.7" cy="236.2" r="0.35"/><circle cx="447.1" cy="219.3" r="0.24"/><circle cx="445.7" cy="216.0" r="0.31"/></g></g></g>
</g>
<clipPath id="cD2"><rect x="458.2" y="194.6" width="54.5" height="54.6"/></clipPath>
<clipPath id="cDc2"><circle cx="485.45" cy="223.20000000000002" r="28.049999999999997"/></clipPath>
<filter id="fD2" x="0" y="0" width="1" height="1" color-interpolation-filters="sRGB"><feTurbulence type="fractalNoise" baseFrequency="1.05" numOctaves="2" seed="12" result="n"/><feColorMatrix in="n" type="matrix" values="0 0 0 0 0.55  0 0 0 0 0.34  0 0 0 0 0.29  6.0 0 0 0 -3.35"/><feGaussianBlur stdDeviation="0.3"/></filter>
<filter id="fL2" x="0" y="0" width="1" height="1" color-interpolation-filters="sRGB"><feTurbulence type="fractalNoise" baseFrequency="0.7" numOctaves="2" seed="52" result="n"/><feColorMatrix in="n" type="matrix" values="0 0 0 0 0.95  0 0 0 0 0.93  0 0 0 0 0.88  0 6.0 0 0 -3.6"/></filter>
<g clip-path="url(#cD2)">
<rect x="458.2" y="194.6" width="54.5" height="54.6" fill="#d2c8b1"/>
<circle cx="485.45" cy="223.20000000000002" r="29.65" fill="#e6e0d2"/>
<circle cx="485.45" cy="223.20000000000002" r="28.25" fill="#ddd5c2"/>
<g clip-path="url(#cDc2)"><rect x="458.2" y="194.6" width="54.5" height="54.6" fill="#fff" filter="url(#fL2)" opacity="0.55"/><rect x="458.2" y="194.6" width="54.5" height="54.6" fill="#fff" filter="url(#fD2)" opacity="0.42"/><g opacity="0.55"><g fill="#8a5a50"><circle cx="490.5" cy="235.7" r="0.24"/><circle cx="504.3" cy="239.8" r="0.40"/><circle cx="504.5" cy="238.4" r="0.26"/><circle cx="507.0" cy="212.6" r="0.26"/><circle cx="496.4" cy="219.4" r="0.40"/><circle cx="469.8" cy="201.8" r="0.39"/><circle cx="471.9" cy="201.3" r="0.37"/><circle cx="510.8" cy="226.4" r="0.41"/><circle cx="476.8" cy="228.0" r="0.27"/><circle cx="495.0" cy="217.5" r="0.36"/><circle cx="465.2" cy="218.5" r="0.32"/><circle cx="506.9" cy="215.8" r="0.41"/><circle cx="484.7" cy="204.7" r="0.41"/><circle cx="477.8" cy="223.2" r="0.30"/><circle cx="464.9" cy="231.8" r="0.26"/><circle cx="506.0" cy="238.6" r="0.29"/><circle cx="508.3" cy="217.7" r="0.25"/><circle cx="508.5" cy="233.7" r="0.25"/><circle cx="476.2" cy="246.6" r="0.35"/><circle cx="482.9" cy="216.0" r="0.37"/><circle cx="506.5" cy="215.2" r="0.23"/><circle cx="478.2" cy="202.4" r="0.40"/><circle cx="497.0" cy="209.1" r="0.32"/><circle cx="493.8" cy="243.9" r="0.20"/><circle cx="491.3" cy="219.1" r="0.21"/><circle cx="475.9" cy="202.5" r="0.31"/><circle cx="486.0" cy="241.9" r="0.37"/><circle cx="507.8" cy="237.5" r="0.24"/><circle cx="504.9" cy="212.7" r="0.35"/><circle cx="459.6" cy="225.7" r="0.39"/><circle cx="490.9" cy="202.0" r="0.25"/><circle cx="481.6" cy="245.8" r="0.37"/><circle cx="500.4" cy="233.9" r="0.26"/><circle cx="462.1" cy="233.7" r="0.29"/><circle cx="463.0" cy="213.6" r="0.21"/><circle cx="476.7" cy="203.6" r="0.33"/><circle cx="467.8" cy="235.8" r="0.39"/><circle cx="483.6" cy="218.3" r="0.25"/><circle cx="468.7" cy="241.1" r="0.23"/><circle cx="464.9" cy="206.1" r="0.31"/><circle cx="465.4" cy="240.9" r="0.21"/><circle cx="467.4" cy="209.6" r="0.26"/><circle cx="503.1" cy="240.3" r="0.38"/><circle cx="493.6" cy="243.5" r="0.37"/><circle cx="506.6" cy="214.5" r="0.31"/><circle cx="496.5" cy="209.4" r="0.40"/><circle cx="483.9" cy="219.5" r="0.40"/><circle cx="503.6" cy="207.4" r="0.34"/><circle cx="494.8" cy="225.3" r="0.28"/><circle cx="504.5" cy="205.8" r="0.40"/><circle cx="500.3" cy="238.2" r="0.28"/><circle cx="490.7" cy="199.6" r="0.25"/><circle cx="507.6" cy="234.8" r="0.29"/><circle cx="495.7" cy="242.1" r="0.32"/><circle cx="495.5" cy="203.4" r="0.41"/><circle cx="508.2" cy="234.0" r="0.39"/><circle cx="462.4" cy="226.1" r="0.37"/><circle cx="508.1" cy="220.8" r="0.31"/><circle cx="482.4" cy="206.2" r="0.36"/><circle cx="475.6" cy="201.2" r="0.42"/></g></g></g>
</g>
<clipPath id="cD3"><rect x="401" y="253.8" width="54.7" height="54.6"/></clipPath>
<clipPath id="cDc3"><circle cx="428.35" cy="282.40000000000003" r="28.15"/></clipPath>
<filter id="fD3" x="0" y="0" width="1" height="1" color-interpolation-filters="sRGB"><feTurbulence type="fractalNoise" baseFrequency="1.05" numOctaves="2" seed="13" result="n"/><feColorMatrix in="n" type="matrix" values="0 0 0 0 0.62  0 0 0 0 0.42  0 0 0 0 0.4  6.0 0 0 0 -3.9"/><feGaussianBlur stdDeviation="0.3"/></filter>
<filter id="fL3" x="0" y="0" width="1" height="1" color-interpolation-filters="sRGB"><feTurbulence type="fractalNoise" baseFrequency="0.7" numOctaves="2" seed="53" result="n"/><feColorMatrix in="n" type="matrix" values="0 0 0 0 0.95  0 0 0 0 0.93  0 0 0 0 0.88  0 6.0 0 0 -4.4"/></filter>
<g clip-path="url(#cD3)">
<rect x="401" y="253.8" width="54.7" height="54.6" fill="#d8c9b4"/>
<circle cx="428.35" cy="282.40000000000003" r="29.75" fill="#eee5dc"/>
<circle cx="428.35" cy="282.40000000000003" r="28.35" fill="#e6d9cd"/>
<g clip-path="url(#cDc3)"><rect x="401" y="253.8" width="54.7" height="54.6" fill="#fff" filter="url(#fL3)" opacity="0.55"/><rect x="401" y="253.8" width="54.7" height="54.6" fill="#fff" filter="url(#fD3)" opacity="0.3"/><g opacity="0.55"><g fill="#a06860"><circle cx="443.7" cy="262.6" r="0.44"/><circle cx="440.5" cy="288.8" r="0.48"/><circle cx="449.5" cy="282.7" r="0.47"/><circle cx="422.3" cy="308.5" r="0.44"/><circle cx="421.2" cy="285.3" r="0.45"/><circle cx="411.2" cy="280.5" r="0.24"/><circle cx="404.0" cy="282.7" r="0.27"/><circle cx="451.9" cy="279.3" r="0.36"/><circle cx="451.5" cy="281.3" r="0.21"/><circle cx="448.8" cy="278.1" r="0.24"/><circle cx="416.2" cy="278.4" r="0.42"/><circle cx="409.2" cy="276.5" r="0.22"/><circle cx="418.4" cy="303.3" r="0.22"/><circle cx="414.2" cy="260.2" r="0.34"/><circle cx="405.5" cy="285.6" r="0.24"/><circle cx="427.9" cy="261.4" r="0.42"/><circle cx="446.4" cy="273.7" r="0.48"/><circle cx="410.9" cy="300.6" r="0.28"/><circle cx="417.3" cy="266.2" r="0.25"/><circle cx="409.7" cy="289.9" r="0.20"/><circle cx="414.2" cy="292.7" r="0.49"/><circle cx="434.0" cy="279.7" r="0.47"/><circle cx="436.4" cy="301.7" r="0.44"/><circle cx="423.7" cy="292.2" r="0.40"/><circle cx="411.3" cy="286.7" r="0.29"/><circle cx="425.0" cy="286.4" r="0.45"/><circle cx="449.8" cy="294.4" r="0.37"/><circle cx="415.4" cy="291.9" r="0.50"/><circle cx="404.1" cy="281.3" r="0.35"/><circle cx="410.1" cy="300.6" r="0.43"/><circle cx="426.5" cy="259.5" r="0.34"/><circle cx="440.0" cy="263.4" r="0.29"/><circle cx="405.0" cy="285.1" r="0.36"/><circle cx="415.4" cy="295.4" r="0.43"/></g></g></g>
</g>
<clipPath id="cD4"><rect x="458.2" y="253.8" width="54.5" height="54.6"/></clipPath>
<clipPath id="cDc4"><circle cx="485.45" cy="282.40000000000003" r="28.049999999999997"/></clipPath>
<filter id="fD4" x="0" y="0" width="1" height="1" color-interpolation-filters="sRGB"><feTurbulence type="fractalNoise" baseFrequency="1.05" numOctaves="2" seed="14" result="n"/><feColorMatrix in="n" type="matrix" values="0 0 0 0 0.55  0 0 0 0 0.34  0 0 0 0 0.29  6.0 0 0 0 -3.3"/><feGaussianBlur stdDeviation="0.3"/></filter>
<filter id="fL4" x="0" y="0" width="1" height="1" color-interpolation-filters="sRGB"><feTurbulence type="fractalNoise" baseFrequency="0.7" numOctaves="2" seed="54" result="n"/><feColorMatrix in="n" type="matrix" values="0 0 0 0 0.95  0 0 0 0 0.93  0 0 0 0 0.88  0 6.0 0 0 -3.6"/></filter>
<g clip-path="url(#cD4)">
<rect x="458.2" y="253.8" width="54.5" height="54.6" fill="#d3cab3"/>
<circle cx="485.45" cy="282.40000000000003" r="29.65" fill="#e9e4d6"/>
<circle cx="485.45" cy="282.40000000000003" r="28.25" fill="#e0dac7"/>
<g clip-path="url(#cDc4)"><rect x="458.2" y="253.8" width="54.5" height="54.6" fill="#fff" filter="url(#fL4)" opacity="0.55"/><rect x="458.2" y="253.8" width="54.5" height="54.6" fill="#fff" filter="url(#fD4)" opacity="0.46"/><g opacity="0.55"><g fill="#7a5a50"><circle cx="478.3" cy="259.0" r="0.39"/><circle cx="487.1" cy="261.0" r="0.36"/><circle cx="485.0" cy="264.1" r="0.21"/><circle cx="468.1" cy="295.2" r="0.31"/><circle cx="498.1" cy="280.1" r="0.27"/><circle cx="468.1" cy="276.6" r="0.29"/><circle cx="500.9" cy="266.3" r="0.23"/><circle cx="485.5" cy="277.8" r="0.42"/><circle cx="472.4" cy="301.8" r="0.37"/><circle cx="484.2" cy="271.6" r="0.24"/><circle cx="472.2" cy="260.2" r="0.26"/><circle cx="477.3" cy="262.3" r="0.42"/><circle cx="509.1" cy="289.6" r="0.25"/><circle cx="487.4" cy="275.3" r="0.25"/><circle cx="459.9" cy="288.0" r="0.33"/><circle cx="502.0" cy="303.5" r="0.40"/><circle cx="479.7" cy="271.7" r="0.23"/><circle cx="491.7" cy="282.6" r="0.23"/><circle cx="461.1" cy="272.0" r="0.30"/><circle cx="504.0" cy="290.6" r="0.25"/><circle cx="473.7" cy="291.7" r="0.36"/><circle cx="462.1" cy="288.3" r="0.29"/><circle cx="486.4" cy="278.4" r="0.28"/><circle cx="460.6" cy="282.3" r="0.21"/><circle cx="484.4" cy="304.7" r="0.22"/><circle cx="505.2" cy="300.4" r="0.32"/><circle cx="463.8" cy="272.8" r="0.22"/><circle cx="508.7" cy="294.6" r="0.35"/><circle cx="498.8" cy="261.1" r="0.30"/><circle cx="481.8" cy="288.8" r="0.27"/><circle cx="504.4" cy="269.8" r="0.23"/><circle cx="468.4" cy="299.7" r="0.31"/><circle cx="463.1" cy="270.0" r="0.34"/><circle cx="464.6" cy="290.4" r="0.28"/><circle cx="472.0" cy="276.4" r="0.27"/><circle cx="492.7" cy="302.1" r="0.29"/><circle cx="493.8" cy="291.5" r="0.27"/><circle cx="512.1" cy="284.6" r="0.28"/><circle cx="476.0" cy="304.7" r="0.34"/><circle cx="503.1" cy="297.9" r="0.37"/><circle cx="489.8" cy="259.8" r="0.42"/><circle cx="494.6" cy="305.5" r="0.39"/><circle cx="490.5" cy="259.5" r="0.41"/><circle cx="506.4" cy="294.1" r="0.34"/><circle cx="476.6" cy="303.3" r="0.38"/><circle cx="496.4" cy="262.3" r="0.22"/><circle cx="462.4" cy="295.8" r="0.34"/><circle cx="486.3" cy="304.5" r="0.39"/><circle cx="471.9" cy="265.6" r="0.38"/><circle cx="507.4" cy="282.8" r="0.40"/><circle cx="489.3" cy="266.6" r="0.32"/><circle cx="462.8" cy="268.9" r="0.21"/><circle cx="466.4" cy="286.5" r="0.33"/><circle cx="473.9" cy="283.2" r="0.21"/><circle cx="484.4" cy="269.0" r="0.32"/><circle cx="491.2" cy="270.1" r="0.22"/><circle cx="480.9" cy="276.9" r="0.37"/><circle cx="474.5" cy="286.0" r="0.37"/><circle cx="477.1" cy="291.9" r="0.29"/><circle cx="492.9" cy="258.5" r="0.34"/></g></g></g>
</g>
<g font-weight="bold" font-size="8.3" style="paint-order:stroke;stroke:#e9e3d6;stroke-width:1.3px;stroke-linejoin:round">
<text x="400.6" y="249.7" textLength="22" lengthAdjust="spacingAndGlyphs" style="fill:#1e1e1e;stroke:#e9e3d6;stroke-width:1.3px">DMSO</text>
<text x="458.6" y="249.7" textLength="51.8" lengthAdjust="spacingAndGlyphs" style="fill:#1e1e1e;stroke:#e9e3d6;stroke-width:1.3px">DMSO+0.4NAC</text>
<text x="400.6" y="308.5" textLength="16.4" lengthAdjust="spacingAndGlyphs" style="fill:#1e1e1e;stroke:#e9e3d6;stroke-width:1.3px">CBR</text>
<text x="458.6" y="308.5" textLength="45" lengthAdjust="spacingAndGlyphs" style="fill:#1e1e1e;stroke:#e9e3d6;stroke-width:1.3px">CBR+0.4NAC</text>
</g>
<line x1="512.9" y1="191.6" x2="512.9" y2="309.4" stroke="#8c8c8c" stroke-width="0.8"/>
</g>
<g id="panelE">
<defs>
<linearGradient id="gE1" x1="0" y1="1" x2="1" y2="0"><stop offset="0" stop-color="#b0b0b0"/><stop offset="0.5" stop-color="#c0c0c0"/><stop offset="1" stop-color="#d3d3d3"/></linearGradient>
<linearGradient id="gE2" x1="0" y1="0" x2="0" y2="1"><stop offset="0" stop-color="#d6d6d6"/><stop offset="1" stop-color="#dedede"/></linearGradient>
<filter id="b08" x="-30%" y="-100%" width="160%" height="300%"><feGaussianBlur stdDeviation="0.85"/></filter>
<clipPath id="cE1"><rect x="24.2" y="371.7" width="56.6" height="37.9"/></clipPath>
<clipPath id="cE2"><rect x="24.2" y="413.7" width="56.6" height="39.2"/></clipPath>
</defs>
<text class="lbl" x="7.3" y="340.2">E</text>
<text class="t6" x="22.4" y="354.3" textLength="24" lengthAdjust="spacingAndGlyphs">primary</text>
<text font-size="7.5" x="28.8" y="366" textLength="46.7" lengthAdjust="spacingAndGlyphs">cells MLLENL</text>
<text font-size="7.4" x="7" y="372.4">kDa</text><path d="M21.6 380.2h1.6M21.6 403.2h1.6M21.6 437h1.6" stroke="#333" stroke-width="0.7"/>
<text font-size="7.5" x="10.8" y="382.7">58</text>
<text font-size="7.5" x="10.8" y="405.7">46</text>
<text font-size="7.5" x="10.8" y="439.7">46</text>
<rect x="23.8" y="371.3" width="57.4" height="38.7" fill="#b0b0b0" stroke="#222" stroke-width="0.8"/>
<g clip-path="url(#cE1)">
<rect x="24.2" y="371.7" width="56.6" height="37.9" fill="url(#gE1)"/>
<rect x="28" y="387.4" width="15.5" height="2.4" rx="1.2" fill="#555" opacity="0.62" filter="url(#b1)"/>
<path d="M50 388.6 Q52 387.3 58 386.9 H66.5 Q68.6 386.9 68.6 388.5 Q68.6 390.2 66.5 390.2 H58 Q52 390 50 388.6Z" fill="#141414" filter="url(#b08)"/><ellipse cx="59" cy="388.6" rx="11" ry="3" fill="#555" opacity="0.35" filter="url(#b1)"/>
<rect x="45" y="403.3" width="36" height="7" fill="#efefef"/>
</g>
<text class="t6" x="48.8" y="409.3" textLength="28.5" lengthAdjust="spacingAndGlyphs">WB:p53</text>
<rect x="23.8" y="413.3" width="57.4" height="40" fill="#d8d8d8" stroke="#222" stroke-width="0.8"/>
<g clip-path="url(#cE2)">
<rect x="24.2" y="413.7" width="56.6" height="39.2" fill="url(#gE2)"/>
<rect x="28" y="430" width="17.5" height="5.2" rx="2.6" fill="#050505" filter="url(#b05)"/><rect x="40" y="431.3" width="14" height="2.4" fill="#333" opacity="0.5" filter="url(#b1)"/>
<rect x="50" y="430.2" width="19" height="4.6" rx="2.3" fill="#050505" filter="url(#b05)"/>
<rect x="46.3" y="446.3" width="35" height="7" fill="#efefef"/>
<circle cx="45.5" cy="421.5" r="0.3" fill="#555"/><circle cx="33" cy="421.8" r="0.3" fill="#666"/><circle cx="36" cy="443" r="0.3" fill="#666"/>
</g>
<text class="t6" x="49" y="452" textLength="30.5" lengthAdjust="spacingAndGlyphs">WB:actin</text>
</g>
<g id="panelF">
<text class="lbl" x="96.2" y="340">F</text>
<text transform="translate(103.8 430.8) rotate(-90)" style="stroke-width:0.28px" font-size="9" textLength="42.8" lengthAdjust="spacingAndGlyphs">Rel. expression</text>
<text class="t7" x="120.4" y="352.2" text-anchor="end">4.0</text>
<text class="t7" x="120.4" y="382.9" text-anchor="end">3.0</text>
<text class="t7" x="120.4" y="413.0" text-anchor="end">2.0</text>
<text class="t7" x="120.4" y="443.2" text-anchor="end">1.0</text>
<text class="t7" x="120.4" y="473.4" text-anchor="end">0</text>
<!-- label boxes -->
<rect x="157.3" y="349.6" width="43.8" height="13.7" fill="#e1e0e4"/>
<text x="179" y="359.1" font-size="7.2" font-style="italic" text-anchor="middle" textLength="39" lengthAdjust="spacingAndGlyphs">Cdkn1a/p21</text>
<rect x="257.6" y="349.6" width="28.4" height="13.5" fill="#e1e0e4"/>
<text x="272.2" y="359.1" font-size="7.2" font-style="italic" text-anchor="middle" textLength="20" lengthAdjust="spacingAndGlyphs">Mdm2</text>
<rect x="340" y="349.4" width="20.8" height="13.2" fill="#e1e0e4"/>
<text x="350.4" y="358.7" font-size="7.2" font-style="italic" text-anchor="middle" textLength="13.5" lengthAdjust="spacingAndGlyphs">Myc</text>
<!-- bars -->
<rect x="138" y="366.5" width="11.1" height="104.2" fill="#8f96bd"/>
<rect x="152" y="383" width="11.1" height="87.7" fill="#b7d79b"/>
<rect x="188" y="440.5" width="11.1" height="30.2" fill="#2e4c80"/>
<rect x="201.8" y="422" width="11.2" height="48.7" fill="#60a63c"/>
<rect x="237" y="443" width="11.1" height="27.7" fill="#8f96bd"/>
<rect x="251" y="443" width="11.1" height="27.7" fill="#b7d79b"/>
<rect x="287" y="441" width="11.2" height="29.7" fill="#2e4c80"/>
<rect x="301.3" y="426.3" width="11.2" height="44.4" fill="#60a63c"/>
<rect x="332.6" y="440.8" width="11.4" height="29.9" fill="#8f96bd"/>
<rect x="362.5" y="361.5" width="11.3" height="109.2" fill="#2e4c80"/>
<g class="eb">
<path d="M143.5 352V379.3M141.3 352h4.4M141.3 379.3h4.4"/>
<path d="M157.5 365.3V398.3M155.3 365.3h4.4M155.3 398.3h4.4"/>
<path d="M193.5 434.3V446.3M191.3 434.3h4.4M191.3 446.3h4.4"/>
<path d="M207.4 413V430.3M205.2 413h4.4M205.2 430.3h4.4"/>
<path d="M242.5 440.5V445M240.3 440.5h4.4M240.3 445h4.4"/>
<path d="M256.5 440V445M254.3 440h4.4M254.3 445h4.4"/>
<path d="M292.6 438.3V442.5M290.4 438.3h4.4M290.4 442.5h4.4"/>
<path d="M306.9 423V428M304.7 423h4.4M304.7 428h4.4"/>
<path d="M338.3 438V443.5M336.1 438h4.4M336.1 443.5h4.4"/>
<path d="M368.1 352.5V369.3M365.9 352.5h4.4M365.9 369.3h4.4"/>
</g>
<!-- legend -->
<rect x="210.5" y="355.8" width="9.5" height="9.2" fill="#8f96bd"/>
<rect x="210.5" y="368.3" width="9.5" height="8.8" fill="#2e4c80"/>
<rect x="210.5" y="386.3" width="9.5" height="9.2" fill="#b7d79b"/>
<rect x="210.5" y="398.8" width="9.5" height="8.8" fill="#60a63c"/>
<text font-size="7.2" x="229.5" y="369.6" textLength="22.5" lengthAdjust="spacingAndGlyphs">DMSO</text>
<text font-size="7.2" x="229.5" y="402.2" textLength="33.5" lengthAdjust="spacingAndGlyphs">CBR5884</text>
<!-- frames -->
<line x1="225.6" y1="347" x2="225.6" y2="471" stroke="#333" stroke-width="0.75" stroke-dasharray="0.8 0.8"/>
<path class="ax" style="stroke-width:1.4px" d="M125.9 471.6V346.9H324.4V471.6"/>
<path class="ax" style="stroke-width:1.4px" d="M326.4 471.6V346.9H382V471.6"/>
<line class="ax" style="stroke-width:1.5px" x1="123" y1="471" x2="382.6" y2="471"/>
<path class="ax" d="M122.9 349.7h3M122.9 380.3h3M122.9 410.4h3M122.9 440.6h3"/>
<path class="ax" d="M125.9 471v2.6M175 471v2.4M225 471v2.4M274.5 471v2.4M324.3 471v2.4M355.7 471v2.4"/>
<!-- x labels -->
<text class="t6" x="150.5" y="483.4" text-anchor="middle">primary</text>
<text class="t6" x="150" y="492.4" text-anchor="middle">cells</text>
<text class="t6" x="200.3" y="483.4" text-anchor="middle" textLength="29.4" lengthAdjust="spacingAndGlyphs">MLLENL</text>
<text class="t6" x="250" y="483.4" text-anchor="middle">primary</text>
<text class="t6" x="249.5" y="492.4" text-anchor="middle">cells</text>
<text class="t6" x="300" y="483.4" text-anchor="middle" textLength="29.4" lengthAdjust="spacingAndGlyphs">MLLENL</text>
<text class="t6" x="338.2" y="483.4" text-anchor="middle">primary</text>
<text class="t6" x="338.5" y="492.4" text-anchor="middle">cells</text>
<text class="t6" x="371.5" y="483.4" text-anchor="middle" textLength="29.4" lengthAdjust="spacingAndGlyphs">MLLENL</text>
</g>

<!-- frame -->
<rect x="0.5" y="0.5" width="519" height="499" fill="none" stroke="#000" stroke-width="1.2"/>
</svg>
</body>
</html>
